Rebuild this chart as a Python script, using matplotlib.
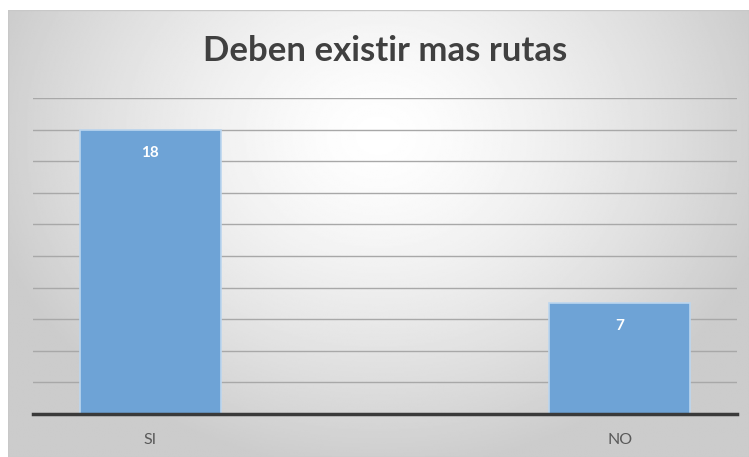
import numpy as np
import matplotlib.pyplot as plt
from matplotlib.patches import Rectangle

categorias = ["SI", "NO"]
valores = [18, 7]
titulo = "Deben existir mas rutas"

W, H = 749, 457


def main():
    fig = plt.figure(figsize=(W / 100, H / 100), dpi=100)
    fig.patch.set_facecolor("white")

    # fondo con degradado radial (zona del grafico)
    x0, y0 = 8 / W, 0.0
    bg = fig.add_axes([x0, y0, 1 - x0, 1 - 10 / H], zorder=0)
    yy, xx = np.mgrid[0:1:300j, 0:1:500j]
    d = np.sqrt(((xx - 0.5) / 0.72) ** 2 + ((yy - 0.72) / 1.0) ** 2)
    g = np.clip(1.0 - 0.3 * d ** 1.4, 0.8, 1.0)
    bg.imshow(g, cmap="gray", vmin=0, vmax=1, extent=[0, 1, 0, 1],
              aspect="auto", origin="lower", interpolation="bilinear")
    bg.add_patch(Rectangle((0, 0), 1, 1, fill=False, edgecolor="#c8c8c8",
                           linewidth=1, transform=bg.transAxes))
    bg.axis("off")

    ax = fig.add_axes([33 / W, (H - 414) / H, (737 - 33) / W, (414 - 98) / H],
                      zorder=1)
    ax.patch.set_alpha(0)
    x = np.arange(len(categorias))
    barras = ax.bar(x, valores, width=0.3, color="#6ea3d6",
                    edgecolor="#bcd6ef", linewidth=1.2, zorder=3)
    for b, v in zip(barras, valores):
        ax.text(b.get_x() + b.get_width() / 2, v - 1.45, str(v),
                ha="center", va="center", color="white",
                fontsize=11, fontweight="bold", family="Lato", zorder=4)

    ax.set_xlim(-0.25, 1.25)
    ax.set_ylim(0, 20)
    ax.set_yticks(np.arange(2, 21, 2))
    ax.yaxis.grid(True, color="#a8a8a8", linewidth=1)
    ax.set_axisbelow(True)
    ax.tick_params(axis="y", left=False, labelleft=False)
    ax.tick_params(axis="x", bottom=False, pad=10, labelsize=11.5,
                   labelcolor="#595959")
    ax.set_xticks(x)
    ax.set_xticklabels(categorias, family="Lato")
    for s in ["top", "right", "left"]:
        ax.spines[s].set_visible(False)
    ax.spines["bottom"].set_color("#3a3a3a")
    ax.spines["bottom"].set_linewidth(2.5)
    ax.spines["bottom"].set_zorder(5)

    fig.text(385 / W, 1 - 51 / H, titulo, ha="center", va="center",
             fontsize=25, fontweight="bold", family="Lato", color="#404040")

    plt.savefig("out.png", dpi=100)


if __name__ == "__main__":
    main()
